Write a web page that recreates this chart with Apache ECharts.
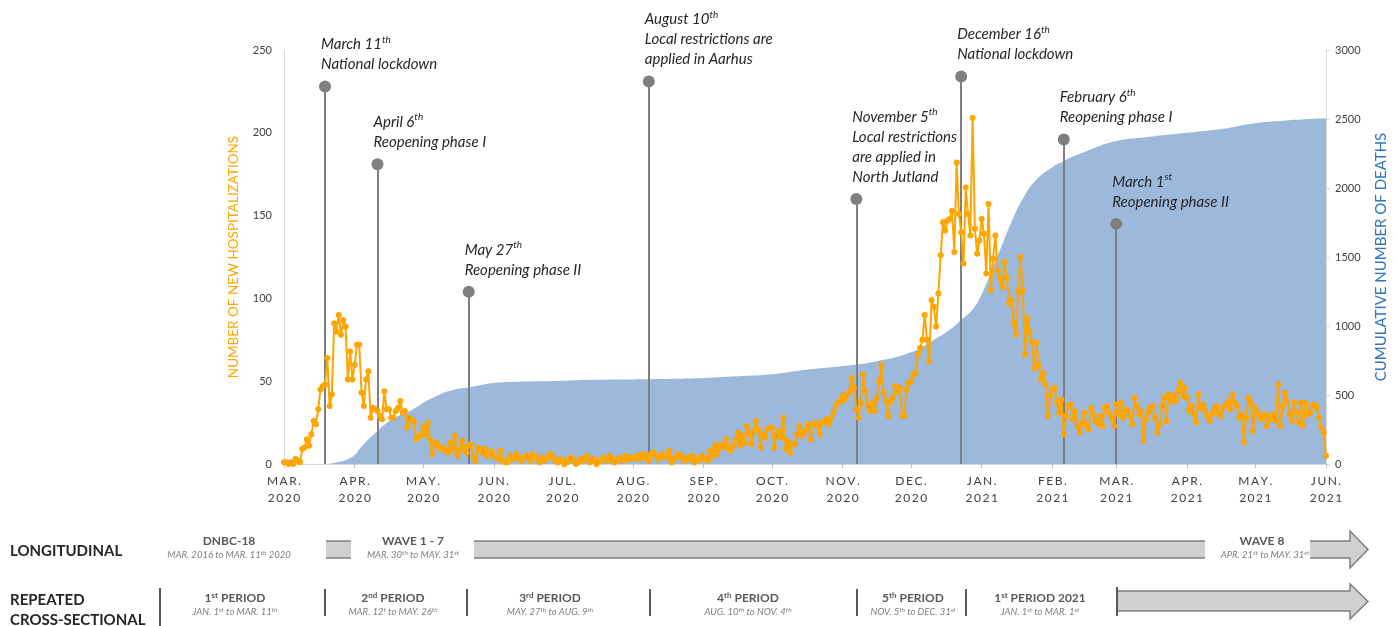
<!DOCTYPE html>
<html lang="en">
<head>
<meta charset="UTF-8">
<title>Hospitalizations and deaths</title>
<script src="https://cdn.jsdelivr.net/npm/echarts@6/dist/echarts.min.js"></script>
<style>
    html, body { margin: 0; padding: 0; background: #fff; }
    #main { width: 1397px; height: 626px; }
</style>
</head>
<body>
<div id="main"></div>
<script>
// daily new hospitalizations, one array per month
var hospMar20 = [1, 1, 0, 1, 0, 3, 2, 1, 9, 10, 15, 11, 18, 26, 24, 33, 45, 47, 48, 64, 35, 42, 85, 80, 90, 78, 87, 83, 51, 68, 51];
var hospApr20 = [60, 72, 72, 43, 35, 51, 56, 28, 34, 33, 32, 29, 27, 44, 33, 33, 28, 28, 32, 34, 38, 31, 32, 22, 28, 27, 25, 15, 17, 17];
var hospMay20 = [22, 18, 25, 15, 6, 12, 13, 10, 9, 10, 8, 7, 13, 9, 17, 5, 8, 14, 10, 7, 11, 12, 4, 2, 10, 8, 7, 9, 5, 6, 8];
var hospJun20 = [5, 4, 3, 8, 2, 1, 1, 5, 3, 4, 6, 3, 2, 4, 5, 4, 2, 6, 5, 3, 1, 4, 2, 3, 5, 6, 4, 2, 1, 3];
var hospJul20 = [2, 0, 1, 3, 4, 2, 0, 1, 3, 2, 4, 5, 1, 2, 3, 0, 1, 2, 4, 3, 2, 5, 3, 1, 2, 3, 4, 2, 5, 3, 4];
var hospAug20 = [3, 4, 5, 3, 6, 4, 5, 2, 6, 7, 5, 3, 4, 6, 5, 4, 8, 1, 3, 4, 6, 5, 3, 2, 4, 3, 5, 1, 2, 3, 5];
var hospSep20 = [3, 4, 2, 8, 5, 11, 6, 12, 10, 11, 15, 9, 8, 11, 14, 19, 11, 17, 13, 23, 18, 12, 20, 26, 21, 10, 18, 16, 21, 22];
var hospOct20 = [22, 10, 17, 20, 16, 28, 9, 14, 7, 12, 12, 18, 23, 17, 19, 21, 24, 15, 24, 25, 23, 18, 25, 26, 27, 24, 28, 31, 35, 37, 38];
var hospNov20 = [41, 39, 42, 44, 52, 46, 33, 28, 37, 54, 44, 35, 32, 37, 32, 40, 50, 60, 43, 38, 29, 38, 40, 47, 44, 46, 29, 29, 45, 49];
var hospDec20 = [50, 54, 55, 66, 70, 75, 90, 75, 62, 99, 95, 83, 103, 126, 146, 141, 147, 148, 153, 128, 182, 151, 140, 121, 167, 151, 138, 209, 142, 127, 135];
var hospJan21 = [148, 139, 115, 157, 105, 124, 138, 117, 112, 107, 122, 112, 97, 99, 85, 78, 104, 125, 105, 66, 88, 80, 74, 58, 73, 60, 51, 55, 48, 29, 41];
var hospFeb21 = [45, 46, 37, 31, 39, 18, 29, 35, 36, 27, 32, 23, 19, 25, 31, 23, 21, 34, 30, 26, 24, 29, 23, 34, 35, 31, 28, 23];
var hospMar21 = [36, 30, 37, 28, 33, 32, 29, 24, 40, 35, 30, 32, 14, 27, 31, 34, 35, 28, 19, 24, 35, 40, 26, 42, 38, 41, 38, 44, 49, 41, 46];
var hospApr21 = [40, 32, 35, 30, 25, 42, 34, 36, 32, 29, 26, 30, 33, 35, 31, 29, 34, 36, 38, 33, 42, 37, 35, 28, 30, 13, 28, 40, 37, 20];
var hospMay21 = [34, 31, 28, 27, 30, 23, 29, 27, 30, 26, 48, 23, 35, 43, 38, 30, 26, 37, 31, 25, 37, 23, 37, 30, 31, 35, 36, 34, 28, 22, 19];
var hospJun21 = [5];

// cumulative deaths (right axis)
var deathDates = ['2020-03-19', '2020-03-25', '2020-03-31', '2020-04-04', '2020-04-10', '2020-04-17', '2020-04-26',
    '2020-05-05', '2020-05-14', '2020-05-22', '2020-06-02', '2020-06-12', '2020-06-27', '2020-07-11', '2020-08-15',
    '2020-09-01', '2020-09-15', '2020-10-01', '2020-10-15', '2020-11-01', '2020-11-16', '2020-12-01', '2020-12-10',
    '2020-12-19', '2020-12-23', '2020-12-28', '2021-01-01', '2021-01-05', '2021-01-10', '2021-01-15', '2021-01-20',
    '2021-01-25', '2021-02-01', '2021-02-06', '2021-02-15', '2021-03-01', '2021-03-15', '2021-04-01', '2021-04-15',
    '2021-05-01', '2021-05-15', '2021-06-01'];
var deathValues = [0, 15, 53, 125, 224, 319, 391,
    478, 536, 558, 589, 596, 601, 609, 616,
    623, 635, 650, 681, 710, 745, 810, 890,
    985, 1045, 1120, 1230, 1390, 1590, 1790, 1950,
    2060, 2150, 2195, 2260, 2340, 2370, 2400, 2425,
    2470, 2490, 2505];

// event markers: where they are drawn, how high, and their text (^..^ = superscript)
var eventDates = ['2020-03-19', '2020-04-11', '2020-05-21', '2020-08-08', '2020-11-07', '2020-12-23', '2021-02-06', '2021-03-01'];
var eventHeights = [228, 181, 104, 231, 160, 234, 196, 145];
var eventTexts = [
    ['March 11^th^', 'National lockdown'],
    ['April 6^th^', 'Reopening phase I'],
    ['May 27^th^', 'Reopening phase II'],
    ['August 10^th^', 'Local restrictions are', 'applied in Aarhus'],
    ['November 5^th^', 'Local restrictions', 'are applied in', 'North Jutland'],
    ['December 16^th^', 'National lockdown'],
    ['February 6^th^', 'Reopening phase I'],
    ['March 1^st^', 'Reopening phase II']
];

var monthNames = ['JAN.', 'FEB.', 'MAR.', 'APR.', 'MAY.', 'JUN.', 'JUL.', 'AUG.', 'SEP.', 'OCT.', 'NOV.', 'DEC.'];

var FONT = 'Lato, "Open Sans", sans-serif';

// category per day
var days = [];
var t = Date.UTC(2020, 2, 1), tEnd = Date.UTC(2021, 5, 1);
while (t <= tEnd) {
    days.push(new Date(t).toISOString().slice(0, 10));
    t += 86400000;
}
var hosp = [].concat(hospMar20, hospApr20, hospMay20, hospJun20, hospJul20, hospAug20, hospSep20, hospOct20,
    hospNov20, hospDec20, hospJan21, hospFeb21, hospMar21, hospApr21, hospMay21, hospJun21);

var deaths = deathDates.map(function (d, i) { return [d, deathValues[i]]; });

// "text ^sup^ text" -> rich string
function richify(str, base, sup) {
    var parts = str.split('^'), out = '';
    for (var i = 0; i < parts.length; i++) {
        if (parts[i] === '') continue;
        out += '{' + (i % 2 ? sup : base) + '|' + parts[i] + '}';
    }
    return out;
}

var isMonthStart = function (idx, val) { return val.slice(8) === '01'; };

var markLineData = [], markPointData = [];
for (var k = 0; k < eventDates.length; k++) {
    markLineData.push([{ coord: [eventDates[k], 0] }, { coord: [eventDates[k], eventHeights[k]] }]);
    markPointData.push({
        coord: [eventDates[k], eventHeights[k]],
        label: {
            formatter: eventTexts[k].map(function (l) { return richify(l, 't', 's'); }).join('\n')
        }
    });
}

// ---- bottom panel (study design) ----
var GREY_TXT = '#595959', SUB_TXT = '#7f7f7f', BAR_FILL = '#d0d0d0', BAR_LINE = '#7f7f7f';
var panelRich = {
    h: { fontFamily: FONT, fontSize: 12, fontWeight: 'bold', fill: GREY_TXT, color: GREY_TXT, lineHeight: 14 },
    hs: { fontFamily: FONT, fontSize: 8, fontWeight: 'bold', fill: GREY_TXT, color: GREY_TXT, lineHeight: 14, verticalAlign: 'top' },
    i: { fontFamily: FONT, fontSize: 9.5, fontStyle: 'italic', fill: SUB_TXT, color: SUB_TXT, lineHeight: 11 },
    is: { fontFamily: FONT, fontSize: 6.5, fontStyle: 'italic', fill: SUB_TXT, color: SUB_TXT, lineHeight: 11, verticalAlign: 'top' }
};
function ptext(x, y, str, base, sup) {
    return {
        type: 'text', silent: true,
        style: {
            x: x, y: y, text: richify(str, base, sup), rich: panelRich,
            align: 'center', verticalAlign: 'middle', textAlign: 'center', textVerticalAlign: 'middle'
        }
    };
}
function bigText(x, y, str) {
    return {
        type: 'text', silent: true,
        style: {
            x: x, y: y, text: str, font: 'bold 15px ' + FONT, fill: '#262626',
            align: 'left', verticalAlign: 'middle', textAlign: 'left', textVerticalAlign: 'middle'
        }
    };
}
function vline(x, y1, y2) {
    return { type: 'line', silent: true, shape: { x1: x, y1: y1, x2: x, y2: y2 }, style: { stroke: GREY_TXT, lineWidth: 2 } };
}
function bar(x1, x2, y1, y2) {
    return [
        { type: 'rect', silent: true, shape: { x: x1, y: y1, width: x2 - x1, height: y2 - y1 }, style: { fill: BAR_FILL } },
        { type: 'line', silent: true, shape: { x1: x1, y1: y1, x2: x2, y2: y1 }, style: { stroke: BAR_LINE, lineWidth: 1.5 } },
        { type: 'line', silent: true, shape: { x1: x1, y1: y2, x2: x2, y2: y2 }, style: { stroke: BAR_LINE, lineWidth: 1.5 } }
    ];
}
function arrow(x1, xh, xt, y1, y2, hy1, hy2) {
    var pts = [[x1, y1], [xh, y1], [xh, hy1], [xt, (hy1 + hy2) / 2], [xh, hy2], [xh, y2], [x1, y2]];
    return [
        { type: 'polygon', silent: true, shape: { points: pts }, style: { fill: BAR_FILL } },
        { type: 'polyline', silent: true, shape: { points: pts }, style: { stroke: BAR_LINE, lineWidth: 1.5, fill: null } }
    ];
}

var graphics = [
    bigText(10, 551, 'LONGITUDINAL'),
    bigText(10, 600, 'REPEATED'),
    bigText(10, 620, 'CROSS-SECTIONAL'),
    ptext(229, 541, 'DNBC-18', 'h', 'hs'),
    ptext(229, 555, 'MAR. 2016 to MAR. 11^th^ 2020', 'i', 'is'),
    ptext(413, 541, 'WAVE 1 - 7', 'h', 'hs'),
    ptext(413, 555, 'MAR. 30^th^ to MAY. 31^st^', 'i', 'is'),
    ptext(1262, 541, 'WAVE 8', 'h', 'hs'),
    ptext(1265, 555, 'APR. 21^st^ to MAY. 31^st^', 'i', 'is'),
    vline(160, 588, 626), vline(325, 589, 616), vline(467, 589, 616), vline(650, 589, 616),
    vline(857, 589, 616), vline(966, 589, 616), vline(1117, 587, 616),
    ptext(235, 598, '1^st^ PERIOD', 'h', 'hs'),
    ptext(235, 612, 'JAN. 1^st^ to MAR. 11^th^', 'i', 'is'),
    ptext(393, 598, '2^nd^ PERIOD', 'h', 'hs'),
    ptext(393, 612, 'MAR. 12^t^ to MAY. 26^th^', 'i', 'is'),
    ptext(550, 598, '3^rd^ PERIOD', 'h', 'hs'),
    ptext(550, 612, 'MAY. 27^th^ to AUG. 9^th^', 'i', 'is'),
    ptext(748, 598, '4^th^ PERIOD', 'h', 'hs'),
    ptext(748, 612, 'AUG. 10^th^ to NOV. 4^th^', 'i', 'is'),
    ptext(913, 598, '5^th^ PERIOD', 'h', 'hs'),
    ptext(913, 612, 'NOV. 5^th^ to DEC. 31^st^', 'i', 'is'),
    ptext(1040, 598, '1^st^ PERIOD 2021', 'h', 'hs'),
    ptext(1040, 612, 'JAN. 1^st^ to MAR. 1^st^', 'i', 'is')
].concat(
    bar(326, 351, 541, 558),
    bar(474, 1205, 541, 558),
    arrow(1310, 1350, 1368, 541, 558, 531, 568),
    arrow(1118, 1350, 1368, 591, 611, 584, 619)
);

var myChart = echarts.init(document.getElementById('main'));

var option = {
    animation: false,
    backgroundColor: '#fff',
    textStyle: { fontFamily: FONT },
    grid: { left: 284, right: 65, top: 50, bottom: 162 },
    xAxis: {
        type: 'category',
        data: days,
        boundaryGap: false,
        axisLine: { lineStyle: { color: '#d9d9d9', width: 1 } },
        axisTick: { show: true, interval: isMonthStart, length: 4, lineStyle: { color: '#bfbfbf' } },
        axisLabel: {
            interval: isMonthStart,
            margin: 9,
            color: '#404040',
            fontSize: 12,
            lineHeight: 17,
            fontFamily: FONT,
            formatter: function (v) {
                var m = monthNames[parseInt(v.slice(5, 7), 10) - 1];
                return m.split('').join('\u2009') + '\n' + v.slice(0, 4).split('').join('\u2009');
            }
        },
        splitLine: { show: false }
    },
    yAxis: [
        {
            type: 'value', min: 0, max: 250, interval: 50,
            name: 'NUMBER OF NEW HOSPITALIZATIONS',
            nameLocation: 'middle', nameGap: 43,
            nameTextStyle: { color: '#FFA500', fontSize: 13.5, fontFamily: FONT },
            axisLine: { show: true, lineStyle: { color: '#d9d9d9' } },
            axisTick: { show: false },
            axisLabel: { color: '#404040', fontSize: 11, margin: 12 },
            splitLine: { show: false }
        },
        {
            type: 'value', min: 0, max: 3000, interval: 500,
            name: 'CUMULATIVE NUMBER OF DEATHS',
            nameLocation: 'middle', nameGap: 48,
            nameTextStyle: { color: '#2F75C0', fontSize: 15, fontFamily: FONT },
            axisLine: { show: true, lineStyle: { color: '#d9d9d9' } },
            axisTick: { show: true, length: 4, lineStyle: { color: '#d9d9d9' } },
            axisLabel: { color: '#404040', fontSize: 11, margin: 9, formatter: function (v) { return String(v); } },
            splitLine: { show: false }
        }
    ],
    series: [
        {
            name: 'Cumulative deaths',
            type: 'line',
            yAxisIndex: 1,
            data: deaths,
            smooth: 0.5,
            showSymbol: false,
            symbol: 'none',
            lineStyle: { width: 0 },
            areaStyle: { color: '#9CB9DB', opacity: 1 },
            silent: true,
            z: 1
        },
        {
            name: 'New hospitalizations',
            type: 'line',
            yAxisIndex: 0,
            data: hosp,
            symbol: 'circle',
            symbolSize: 6,
            showSymbol: true,
            showAllSymbol: true,
            itemStyle: { color: '#FFA500' },
            lineStyle: { color: '#FFA500', width: 2 },
            silent: true,
            z: 3,
            markLine: {
                silent: true,
                symbol: ['none', 'none'],
                label: { show: false },
                lineStyle: { color: '#7f7f7f', width: 2, type: 'solid' },
                data: markLineData,
                z: 2
            },
            markPoint: {
                silent: true,
                symbol: 'circle',
                symbolSize: 12,
                itemStyle: { color: '#7f7f7f' },
                label: {
                    show: true,
                    position: [2, -6],
                    align: 'left',
                    verticalAlign: 'bottom',
                    rich: {
                        t: { fontFamily: FONT, fontSize: 15, fontStyle: 'italic', color: '#262626', lineHeight: 20 },
                        s: { fontFamily: FONT, fontSize: 10, fontStyle: 'italic', color: '#262626', lineHeight: 12, verticalAlign: 'top' }
                    }
                },
                data: markPointData,
                z: 4
            }
        }
    ],
    graphic: graphics
};

myChart.setOption(option);
</script>
</body>
</html>
